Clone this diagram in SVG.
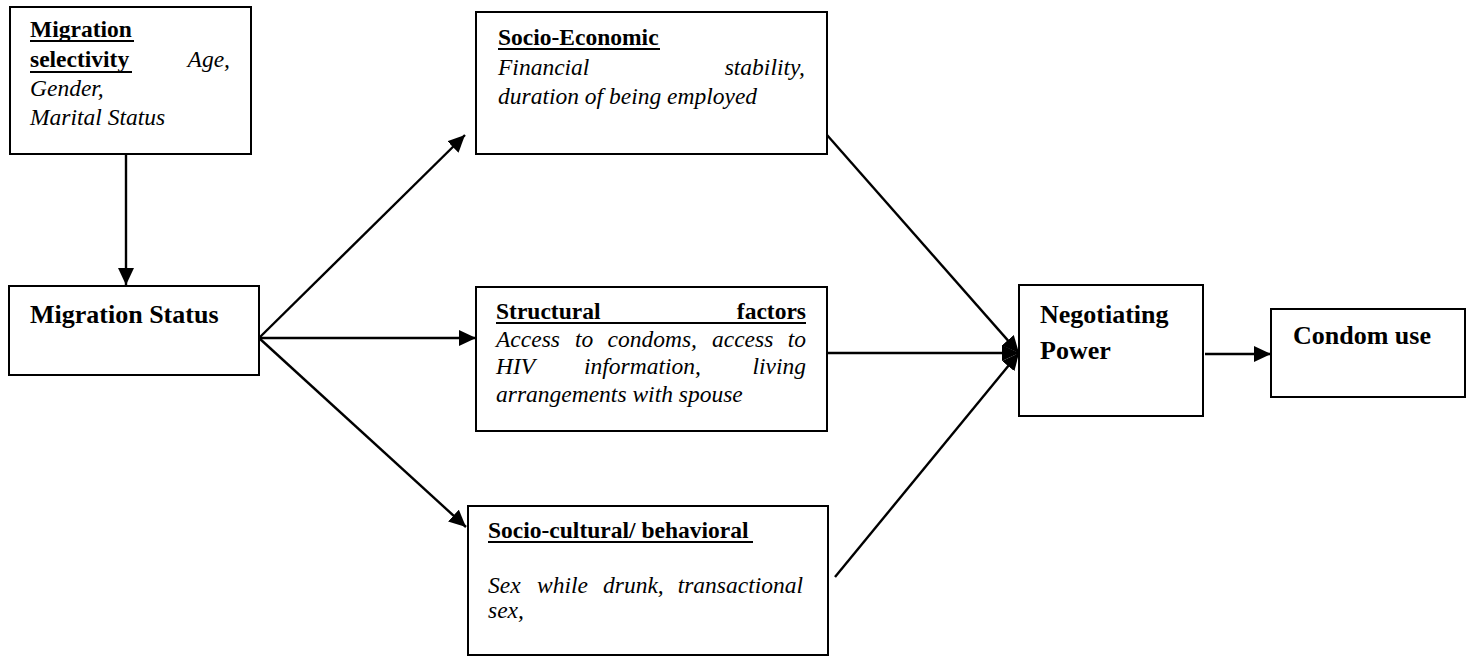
<svg xmlns="http://www.w3.org/2000/svg" width="1466" height="656" viewBox="0 0 1466 656">
<style>
.box{fill:#fff;stroke:#000;stroke-width:2}
.t{font-family:'Liberation Serif','Tinos','Times New Roman','DejaVu Serif',serif;font-size:23.5px;fill:#000}
.b{font-weight:bold}
.i{font-style:italic}
.big{font-size:26px;font-weight:bold}
.ul{stroke:#000;stroke-width:2}
.con line{stroke:#000;stroke-width:2.4;fill:none}
</style>
<defs>
<marker id="ah" markerUnits="userSpaceOnUse" markerWidth="20" markerHeight="18" refX="17" refY="8" orient="auto">
<path d="M0,0 L17,8 L0,16 Z" fill="#000"/>
</marker>
</defs>
<rect width="1466" height="656" fill="#fff"/>
<g class="con">
<line x1="126" y1="154" x2="126" y2="285" marker-end="url(#ah)"/>
<line x1="259" y1="338" x2="465" y2="135" marker-end="url(#ah)"/>
<line x1="259" y1="338" x2="476" y2="338" marker-end="url(#ah)"/>
<line x1="259" y1="338" x2="466" y2="527" marker-end="url(#ah)"/>
<line x1="827" y1="135" x2="1019" y2="353" marker-end="url(#ah)"/>
<line x1="827" y1="353" x2="1019" y2="353" marker-end="url(#ah)"/>
<line x1="835" y1="577" x2="1019" y2="353" marker-end="url(#ah)"/>
<line x1="1205" y1="354" x2="1271" y2="354" marker-end="url(#ah)"/>
</g>
<g id="migration-selectivity">
<rect class="box" x="10" y="7" width="241" height="147"/>
<text class="t b" font-family="Liberation Serif" x="30" y="37">Migration</text>
<line class="ul" x1="30" y1="41" x2="134" y2="41"/>
<text class="t b" x="30" y="67">selectivity</text>
<line class="ul" x1="30" y1="72" x2="132" y2="72"/>
<text class="t i" x="230" y="67" text-anchor="end">Age,</text>
<text class="t i" x="30" y="96">Gender,</text>
<text class="t i" x="30" y="125">Marital Status</text>
</g>
<g id="migration-status">
<rect class="box" x="9" y="286" width="250" height="89"/>
<text class="t big" x="30" y="323">Migration Status</text>
</g>
<g id="socio-economic">
<rect class="box" x="476" y="12" width="351" height="142"/>
<text class="t b" x="498" y="45">Socio-Economic</text>
<line class="ul" x1="498" y1="49" x2="660" y2="49"/>
<text class="t i" x="498" y="75">Financial</text>
<text class="t i" x="805" y="75" text-anchor="end">stability,</text>
<text class="t i" x="498" y="104">duration of being employed</text>
</g>
<g id="structural">
<rect class="box" x="476" y="287" width="351" height="144"/>
<text class="t b" x="496" y="319">Structural</text>
<text class="t b" x="806" y="319" text-anchor="end">factors</text>
<line class="ul" x1="496" y1="323" x2="806" y2="323"/>
<text class="t i" y="347"><tspan x="496">Access</tspan><tspan x="575">to</tspan><tspan x="607.5">condoms,</tspan><tspan x="712">access</tspan></text>
<text class="t i" x="806" y="347" text-anchor="end">to</text>
<text class="t i" y="374"><tspan x="496">HIV</tspan><tspan x="584">information,</tspan></text>
<text class="t i" x="806" y="374" text-anchor="end">living</text>
<text class="t i" x="496" y="402">arrangements with spouse</text>
</g>
<g id="socio-cultural">
<rect class="box" x="468" y="506" width="360" height="149"/>
<text class="t b" x="488" y="538">Socio-cultural/ behavioral</text>
<line class="ul" x1="488" y1="542" x2="753" y2="542"/>
<text class="t i" y="593"><tspan x="488">Sex</tspan><tspan x="537">while</tspan><tspan x="603">drunk,</tspan></text>
<text class="t i" x="803" y="593" text-anchor="end">transactional</text>
<text class="t i" x="488" y="618">sex,</text>
</g>
<g id="negotiating-power">
<rect class="box" x="1019" y="285" width="184" height="131"/>
<text class="t big" x="1040" y="323">Negotiating</text>
<text class="t big" x="1040" y="359">Power</text>
</g>
<g id="condom-use">
<rect class="box" x="1271" y="309" width="194" height="88"/>
<text class="t big" x="1293" y="344">Condom use</text>
</g>
</svg>
